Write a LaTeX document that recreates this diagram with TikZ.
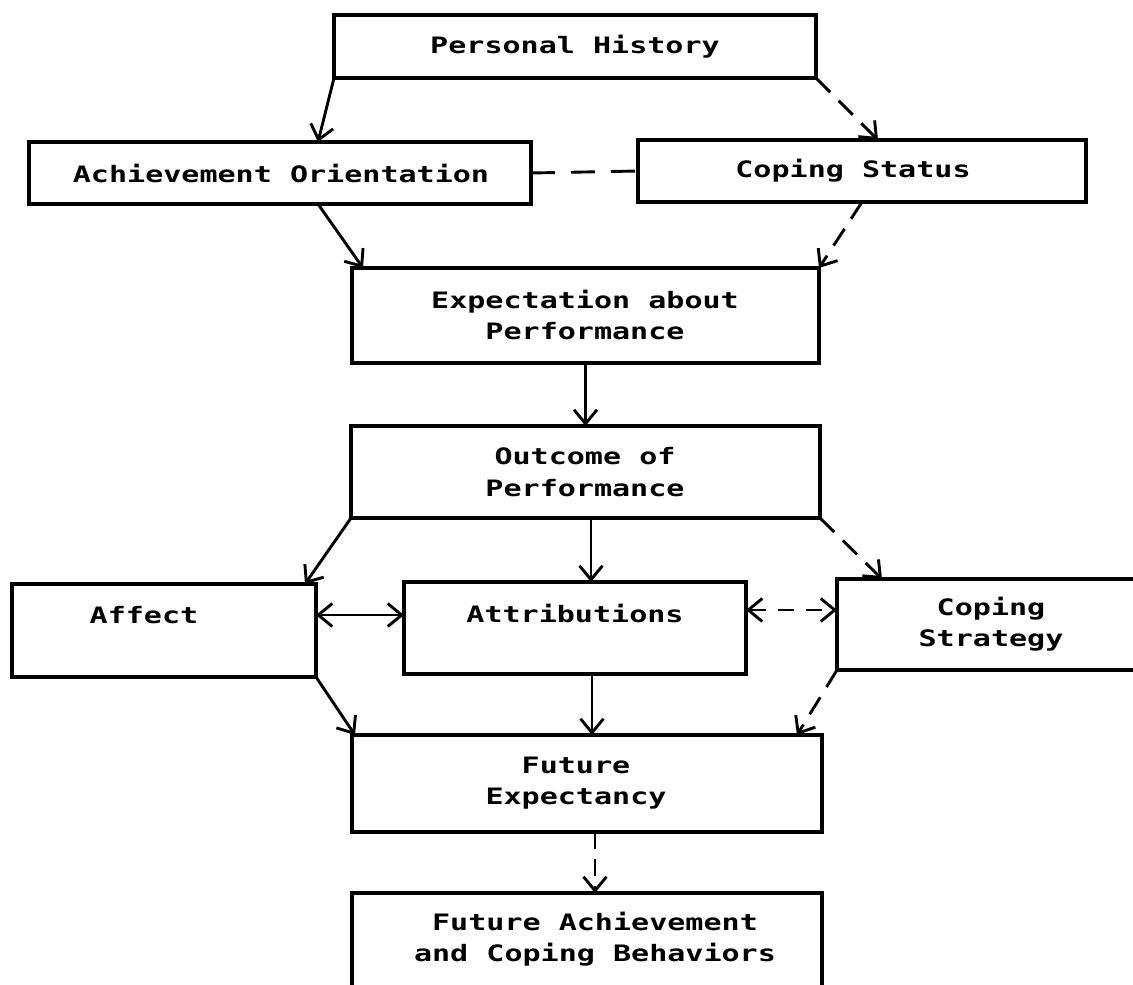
\documentclass[tikz,border=0pt]{standalone}
\usepackage{fontspec}
\newfontfamily\plotfont[FakeStretch=1.33]{DejaVu Sans Mono}
\usetikzlibrary{arrows.meta}
\begin{document}
\begin{tikzpicture}[x=1bp,y=-1bp,
  box/.style={draw,line width=3.2bp,inner sep=0pt,outer sep=0pt},
  lbl/.style={font=\plotfont\bfseries\fontsize{22.6bp}{31.5bp}\selectfont,align=center,inner sep=0pt},
  link/.style={line width=2.9bp},
  arr/.style={link,-{Straight Barb[length=14bp,width=23bp]}},
  dbl/.style={link,{Straight Barb[length=14bp,width=23bp]}-{Straight Barb[length=14bp,width=23bp]}},
  dsh/.style={dash pattern=on 20bp off 12bp}]
\useasboundingbox (0,0) rectangle (1133,985);
\clip (0,0) rectangle (1133,985);
% boxes
\node[box,minimum width=482bp,minimum height=63bp] (ph) at (575,46.5) {};
\node[box,minimum width=502bp,minimum height=62bp] (ao) at (280,173) {};
\node[box,minimum width=448bp,minimum height=62bp] (cs) at (862,171) {};
\node[box,minimum width=467bp,minimum height=95bp] (ep) at (585.5,315.5) {};
\node[box,minimum width=469bp,minimum height=92bp] (op) at (585.5,472) {};
\node[box,minimum width=304bp,minimum height=93bp] (af) at (164,630.5) {};
\node[box,minimum width=342bp,minimum height=92bp] (at) at (575,628) {};
\node[box,minimum width=308bp,minimum height=91bp] (st) at (991,624.5) {};
\node[box,minimum width=470bp,minimum height=97bp] (fe) at (587,783.5) {};
\node[box,minimum width=470bp,minimum height=110bp] (fa) at (587,948) {};
% labels
\node[lbl] (tph) at (575,47) {Personal History};
\node[lbl] (tao) at (281,173) {Achievement Orientation};
\node[lbl] (tcs) at (853,171) {Coping Status};
\node[lbl] (tep) at (585,315) {Expectation about\\Performance};
\node[lbl] (top) at (585,472) {Outcome of\\Performance};
\node[lbl] (taf) at (144,615) {Affect};
\node[lbl] (tat) at (575,613) {Attributions};
\node[lbl] (tst) at (991,624) {Coping\\Strategy};
\node[lbl] (tfe) at (576,783) {Future\\Expectancy};
\node[lbl] (tfa) at (595,939) {Future Achievement\\and Coping Behaviors};
% helper coordinates
\path ([xshift=16bp]at.north) coordinate (atn);
\path ([xshift=17bp]at.south) coordinate (ats);
\path ([yshift=18bp]at.east) coordinate (ate);
% connectors
\draw[arr] (ph.south west) -- ([xshift=38bp]ao.north);
\draw[arr,dsh] (ph.south east) -- ([xshift=16bp]cs.north);
\draw[link,dash pattern=on 24bp off 16bp] (ao.east) -- (cs.west);
\draw[arr] ([xshift=38bp]ao.south) -- ([xshift=11bp]ep.north west);
\draw[arr,dsh] (cs.south) -- (ep.north east);
\draw[arr] (ep.south) -- (op.north);
\draw[arr] (op.south west) -- ([xshift=-11bp]af.north east);
\draw[arr] (atn |- op.south) -- (atn);
\draw[arr,dsh] (op.south east) -- ([xshift=45bp]st.north west);
\draw[dbl] (af.east |- taf) -- (at.west |- taf);
\draw[dbl,dash pattern=on 16bp off 12bp] (ate) -- (ate -| st.west);
\draw[arr] (af.south east) -- ([xshift=3bp]fe.north west);
\draw[arr] (ats) -- (ats |- fe.north);
\draw[arr,dsh] (st.south west) -- ([xshift=-25bp]fe.north east);
\draw[arr,dash pattern=on 17bp off 10bp] ([xshift=8bp]fe.south) -- ([xshift=8bp]fa.north);
\end{tikzpicture}
\end{document}
